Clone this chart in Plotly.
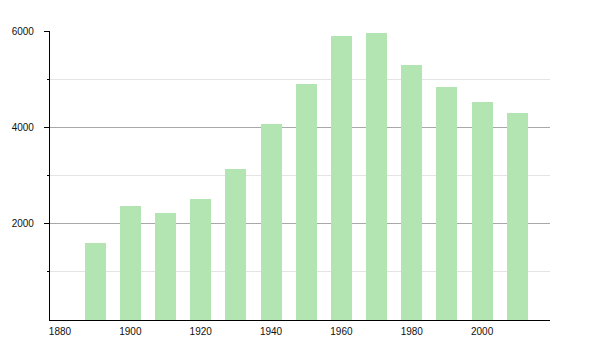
import plotly.graph_objects as go

years = [1890, 1900, 1910, 1920, 1930, 1940, 1950, 1960, 1970, 1980, 1990, 2000, 2010]
population = [1600, 2373, 2222, 2512, 3134, 4073, 4902, 5896, 5952, 5295, 4845, 4528, 4300]
x_ticks = [1880, 1900, 1920, 1940, 1960, 1980, 2000]
y_major = [2000, 4000, 6000]
y_minor = [1000, 3000, 5000]

fig = go.Figure(go.Bar(
    x=years, y=population, width=6,
    marker=dict(color="rgb(179,229,179)", line=dict(width=0)),
))

fig.update_layout(
    width=600, height=350,
    margin=dict(l=50, r=50, t=31, b=30),
    plot_bgcolor="white", paper_bgcolor="white",
    showlegend=False,
    font=dict(family="Liberation Sans, Arial, sans-serif", size=10, color="#111"),
    bargap=0,
)
fig.update_xaxes(
    range=[1877.16, 2019.3],
    tickmode="array", tickvals=x_ticks, ticktext=[str(v) for v in x_ticks],
    showgrid=False, zeroline=False,
    showline=True, linecolor="black", linewidth=1.2,
    ticks="", ticklabelstandoff=2,
)
fig.update_yaxes(
    range=[0, 6000],
    tickmode="array", tickvals=y_major, ticktext=[str(v) for v in y_major],
    showgrid=True, gridcolor="#a8a8a8", gridwidth=1,
    zeroline=False,
    showline=True, linecolor="black", linewidth=1.2,
    ticks="outside", ticklen=5, tickcolor="black", tickwidth=1,
    ticklabelstandoff=8,
    minor=dict(tickmode="array", tickvals=y_minor, ticks="outside", ticklen=2,
               tickcolor="black", showgrid=True, gridcolor="#e4e4e4", gridwidth=1),
)

fig.write_html("out.html")
